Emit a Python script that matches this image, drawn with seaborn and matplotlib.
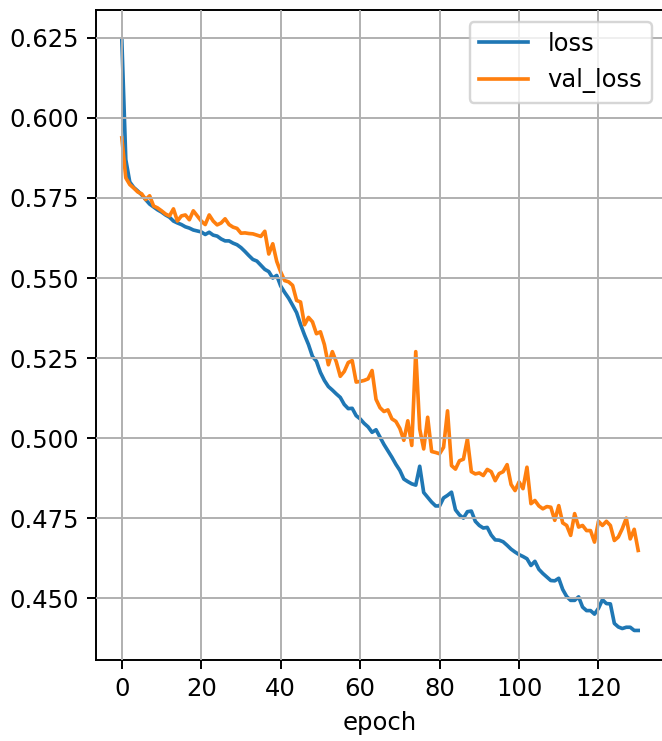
import numpy as np
import pandas as pd
import matplotlib
matplotlib.use("Agg")
import matplotlib.pyplot as plt
import seaborn as sns

# Training history per epoch
loss = [
    0.6245, 0.5870, 0.5800, 0.5783, 0.5772, 0.5760, 0.5745, 0.5731, 0.5722, 0.5713,
    0.5706, 0.5697, 0.5690, 0.5678, 0.5672, 0.5667, 0.5660, 0.5656, 0.5650, 0.5647,
    0.5644, 0.5636, 0.5643, 0.5634, 0.5631, 0.5622, 0.5616, 0.5616, 0.5609, 0.5604,
    0.5595, 0.5583, 0.5570, 0.5558, 0.5553, 0.5540, 0.5527, 0.5520, 0.5500, 0.5508,
    0.5475, 0.5455, 0.5437, 0.5415, 0.5392, 0.5355, 0.5322, 0.5292, 0.5255, 0.5240,
    0.5205, 0.5180, 0.5161, 0.5150, 0.5138, 0.5127, 0.5105, 0.5092, 0.5093, 0.5070,
    0.5060, 0.5046, 0.5035, 0.5018, 0.5026, 0.5003, 0.4980, 0.4960, 0.4940, 0.4918,
    0.4899, 0.4872, 0.4864, 0.4857, 0.4853, 0.4912, 0.4830, 0.4815, 0.4800, 0.4788,
    0.4788, 0.4813, 0.4821, 0.4831, 0.4776, 0.4760, 0.4750, 0.4770, 0.4772, 0.4740,
    0.4727, 0.4719, 0.4721, 0.4697, 0.4682, 0.4681, 0.4676, 0.4665, 0.4653, 0.4644,
    0.4636, 0.4630, 0.4623, 0.4602, 0.4615, 0.4590, 0.4577, 0.4566, 0.4555, 0.4554,
    0.4562, 0.4527, 0.4505, 0.4493, 0.4493, 0.4504, 0.4472, 0.4461, 0.4461, 0.4450,
    0.4468, 0.4495, 0.4483, 0.4482, 0.4421, 0.4410, 0.4405, 0.4409, 0.4409, 0.4399,
    0.4399,
]

val_loss = [
    0.5938, 0.5813, 0.5792, 0.5781, 0.5769, 0.5763, 0.5745, 0.5757, 0.5725, 0.5719,
    0.5710, 0.5700, 0.5694, 0.5716, 0.5678, 0.5694, 0.5697, 0.5682, 0.5710, 0.5694,
    0.5678, 0.5667, 0.5697, 0.5678, 0.5666, 0.5672, 0.5685, 0.5667, 0.5659, 0.5655,
    0.5640, 0.5641, 0.5639, 0.5638, 0.5634, 0.5630, 0.5646, 0.5575, 0.5607, 0.5552,
    0.5519, 0.5492, 0.5488, 0.5477, 0.5430, 0.5425, 0.5354, 0.5377, 0.5363, 0.5326,
    0.5332, 0.5292, 0.5229, 0.5270, 0.5238, 0.5193, 0.5208, 0.5236, 0.5242, 0.5175,
    0.5177, 0.5180, 0.5185, 0.5211, 0.5121, 0.5095, 0.5083, 0.5088, 0.5060, 0.5052,
    0.5030, 0.4993, 0.5054, 0.4977, 0.5270, 0.5028, 0.4966, 0.5065, 0.4958, 0.4955,
    0.4951, 0.4971, 0.5085, 0.4914, 0.4903, 0.4929, 0.4934, 0.4997, 0.4895, 0.4888,
    0.4891, 0.4883, 0.4902, 0.4895, 0.4867, 0.4889, 0.4895, 0.4917, 0.4855, 0.4836,
    0.4863, 0.4842, 0.4909, 0.4795, 0.4805, 0.4788, 0.4779, 0.4786, 0.4784, 0.4743,
    0.4789, 0.4735, 0.4727, 0.4696, 0.4764, 0.4722, 0.4727, 0.4711, 0.4711, 0.4675,
    0.4740, 0.4727, 0.4740, 0.4727, 0.4680, 0.4691, 0.4717, 0.4750, 0.4685, 0.4715,
    0.4649,
]

epoch = np.arange(len(loss))
series_names = ["loss", "val_loss"]
colors = ["#1f77b4", "#ff7f0e"]

history = pd.DataFrame({"epoch": epoch, "loss": loss, "val_loss": val_loss})
long = history.melt(id_vars="epoch", value_vars=series_names,
                    var_name="metric", value_name="value")

DPI = 175
fig = plt.figure(figsize=(662 / DPI, 741 / DPI), dpi=DPI)
ax = fig.add_axes([96 / 662, 81 / 741, 568 / 662, 650 / 741])

sns.lineplot(data=long, x="epoch", y="value", hue="metric",
             hue_order=series_names, palette=colors, linewidth=1.5, ax=ax)

ax.grid(True, color="#b0b0b0", linewidth=0.8)
ax.set_axisbelow(False)
ax.set_xlabel("epoch")
ax.set_ylabel("")
ax.set_xticks([0, 20, 40, 60, 80, 100, 120])
ax.legend(loc="upper right", title=None)

fig.savefig("out.png", dpi=DPI)
